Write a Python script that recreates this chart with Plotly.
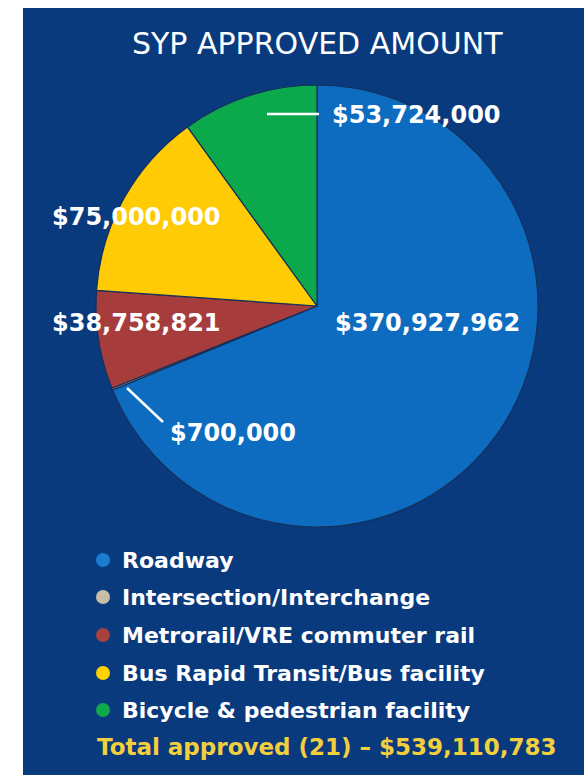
import plotly.graph_objects as go

W, H = 584, 775

categories = ["Roadway", "Intersection/Interchange", "Metrorail/VRE commuter rail",
              "Bus Rapid Transit/Bus facility", "Bicycle & pedestrian facility"]
values = [370927962, 700000, 38758821, 75000000, 53724000]
slice_colors = ["#0d6cbf", "#c9bda6", "#a63c3b", "#fecb05", "#0ca84c"]
dot_colors = ["#1a7dcf", "#c9bda6", "#a8403d", "#ffd200", "#10a84a"]
title_text = "SYP APPROVED AMOUNT"
project_count = 21

NAVY = "#0a3a7e"
FONT = "DejaVu Sans"


def px(x):
    return x / W


def py(y):
    return 1 - y / H


cx, cy, r = 317, 306, 221

fig = go.Figure(go.Pie(
    values=values,
    labels=categories,
    marker=dict(colors=slice_colors, line=dict(color="#14305a", width=1.2)),
    sort=False,
    direction="clockwise",
    rotation=0,
    textinfo="none",
    hoverinfo="label+value",
    showlegend=False,
    domain=dict(x=[px(cx - r), px(cx + r)], y=[py(cy + r), py(cy - r)]),
))

shapes = [
    dict(type="rect", xref="paper", yref="paper", x0=0, x1=px(23), y0=0, y1=1,
         fillcolor="white", line=dict(width=0), layer="above"),
    dict(type="rect", xref="paper", yref="paper", x0=0, x1=1, y0=py(8), y1=1,
         fillcolor="white", line=dict(width=0), layer="above"),
    # leader lines
    dict(type="line", xref="paper", yref="paper", x0=px(267), y0=py(114), x1=px(319), y1=py(114),
         line=dict(color="white", width=2.5)),
    dict(type="line", xref="paper", yref="paper", x0=px(127), y0=py(388), x1=px(163), y1=py(422),
         line=dict(color="white", width=2.5)),
]

annotations = [
    dict(text=title_text, x=px(317), y=py(44), xanchor="center", yanchor="middle", showarrow=False,
         font=dict(family=FONT, size=30, color="white")),
]

label_pos = [  # (x_left, y_center) for each slice's value label
    (333, 323),
    (168, 433),
    (50, 323),
    (50, 217),
    (330, 115),
]
for v, (lx, ly) in zip(values, label_pos):
    annotations.append(dict(text=f"${v:,}", x=px(lx), y=py(ly), xanchor="left", yanchor="middle",
                            showarrow=False,
                            font=dict(family=FONT, size=24, color="white", weight="bold")))

row_y = [560, 597, 635, 673, 710]
for cat, col, ry in zip(categories, dot_colors, row_y):
    d = 7
    shapes.append(dict(type="circle", xref="paper", yref="paper",
                       x0=px(103 - d), x1=px(103 + d), y0=py(ry + d), y1=py(ry - d),
                       fillcolor=col, line=dict(width=0)))
    annotations.append(dict(text=cat, x=px(120), y=py(ry), xanchor="left", yanchor="middle",
                            showarrow=False,
                            font=dict(family=FONT, size=22, color="white", weight="bold")))

total = sum(values)
annotations.append(dict(text=f"Total approved ({project_count}) \u2013 ${total:,}",
                        x=px(95), y=py(747), xanchor="left", yanchor="middle", showarrow=False,
                        font=dict(family=FONT, size=23, color="#f3cf3e", weight="bold")))

fig.update_layout(
    width=W, height=H,
    margin=dict(l=0, r=0, t=0, b=0),
    paper_bgcolor=NAVY,
    plot_bgcolor=NAVY,
    shapes=shapes,
    annotations=annotations,
)

fig.write_html("out.html", config={"displayModeBar": False},
               post_script="document.body.style.margin='0px';document.body.style.overflow='hidden';")
